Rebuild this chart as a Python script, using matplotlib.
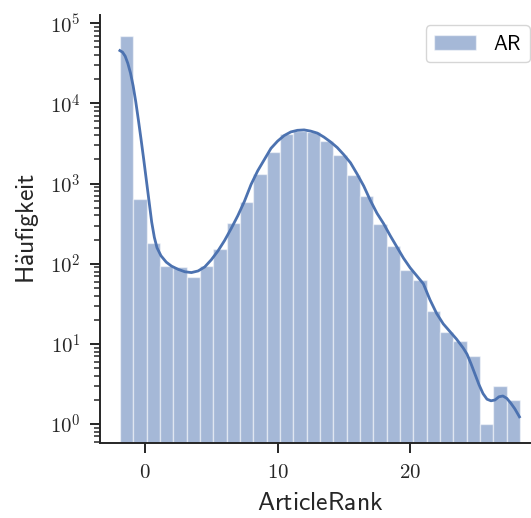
import numpy as np
import matplotlib
matplotlib.use("Agg")
import matplotlib.pyplot as plt
from matplotlib.ticker import FuncFormatter, LogLocator, FixedLocator

# histogram of ArticleRank (30 bins), counts
bin_left = -1.89
bin_right = 28.3
counts = [70000, 640, 183, 94, 92, 68, 94, 152, 320, 596,
          1310, 2510, 4180, 4550, 4460, 3440, 2260, 1285, 700, 314,
          167, 84, 63, 26, 14, 11, 7, 1, 3, 2]

# KDE curve as it appears on the plot (x, log10 of density-scaled count)
kde_x = [-1.90, -1.70, -1.50, -1.30, -1.10, -0.90, -0.70, -0.50, -0.30, -0.10,
         0.10, 0.30, 0.50, 0.70, 0.90, 1.20, 1.60, 2.00, 2.50, 3.00,
         3.50, 4.00, 4.50, 5.00, 5.50, 6.00, 6.50, 7.00, 7.50, 8.00,
         8.50, 9.00, 9.50, 10.00, 10.50, 11.00, 11.50, 12.00, 12.50, 13.00,
         13.50, 14.00, 14.50, 15.00, 15.50, 16.00, 16.50, 17.00, 17.50, 18.00,
         18.50, 19.00, 19.50, 20.00, 20.50, 21.00, 21.50, 22.00, 22.50, 23.00,
         23.50, 24.00, 24.30, 24.60, 24.90, 25.20, 25.50, 25.80, 26.10, 26.40,
         26.70, 27.00, 27.30, 27.60, 27.90, 28.25]
kde_log = [4.66, 4.64, 4.59, 4.50, 4.38, 4.22, 4.02, 3.79, 3.55, 3.30,
           3.04, 2.78, 2.52, 2.33, 2.20, 2.10, 2.02, 1.97, 1.93, 1.90,
           1.89, 1.91, 1.96, 2.05, 2.16, 2.29, 2.44, 2.60, 2.78, 2.99,
           3.16, 3.30, 3.44, 3.53, 3.60, 3.645, 3.665, 3.67, 3.655, 3.63,
           3.58, 3.52, 3.45, 3.36, 3.26, 3.12, 2.97, 2.79, 2.63, 2.50,
           2.35, 2.21, 2.07, 1.95, 1.85, 1.75, 1.55, 1.38, 1.25, 1.155,
           1.06, 0.95, 0.87, 0.75, 0.62, 0.49, 0.38, 0.31, 0.29, 0.30,
           0.34, 0.35, 0.32, 0.26, 0.19, 0.09]

color = "#4C72B0"
plt.rcParams["mathtext.fontset"] = "cm"

fig = plt.figure(figsize=(5.31, 5.18), dpi=100)
ax = fig.add_axes([100 / 531, 75.3 / 518, 440 / 531, 427.7 / 518])

edges = np.linspace(bin_left, bin_right, len(counts) + 1)
ax.bar(edges[:-1], counts, width=np.diff(edges), align="edge",
       color=color, alpha=0.5, edgecolor="white", linewidth=1.0, label=r"$\mathsf{AR}$")
ax.plot(kde_x, 10 ** np.array(kde_log), color=color, lw=2.0,
        solid_joinstyle="round")

ax.set_yscale("log")
ax.set_xlim(-3.4, 29.8)
ax.set_ylim(0.585, 127000)

ax.xaxis.set_major_locator(FixedLocator([0, 10, 20]))
ax.xaxis.set_major_formatter(FuncFormatter(lambda v, p: r"$%d$" % v))
ax.yaxis.set_major_locator(LogLocator(base=10, numticks=10))
ax.yaxis.set_minor_locator(LogLocator(base=10, subs=np.arange(2, 10), numticks=20))
ax.yaxis.set_major_formatter(FuncFormatter(lambda v, p: r"$10^{%d}$" % round(np.log10(v))))

for side in ["top", "right"]:
    ax.spines[side].set_visible(False)
for side in ["left", "bottom"]:
    ax.spines[side].set_linewidth(1.4)
    ax.spines[side].set_color("#262626")

ax.tick_params(axis="both", which="major", length=7, width=1.4, labelsize=15,
               color="#262626", labelcolor="#262626", pad=7)
ax.tick_params(axis="y", which="minor", length=4.5, width=1.1, color="#262626")

ax.set_xlabel(r"$\mathsf{ArticleRank}$", fontsize=18.5, color="#262626", labelpad=6)
ax.set_ylabel(r"$\mathsf{H\ddot{a}ufigkeit}$", fontsize=18.5, color="#262626", labelpad=6)

leg = ax.legend(loc="upper right", fontsize=15, frameon=True, handlelength=2.0,
                borderaxespad=0.5)
leg.get_frame().set_edgecolor("#cccccc")
leg.get_frame().set_linewidth(1.0)

fig.savefig("out.png", dpi=100)
